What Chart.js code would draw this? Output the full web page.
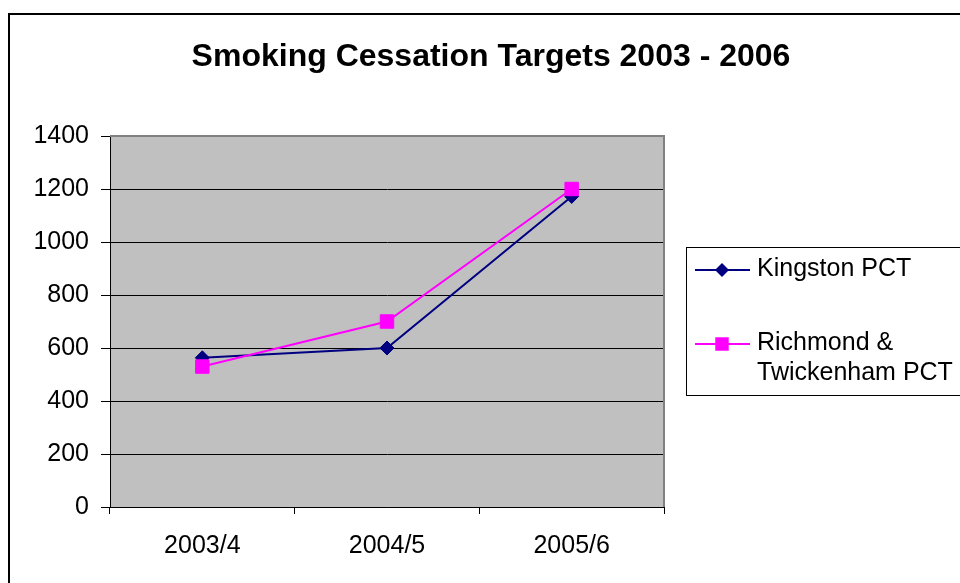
<!DOCTYPE html>
<html><head><meta charset="utf-8">
<script src="https://cdn.jsdelivr.net/npm/chart.js@4"></script>
<style>html,body{margin:0;padding:0;background:#fff;overflow:hidden}canvas{display:block}</style>
</head><body>
<canvas id="c" width="960" height="583"></canvas>
<script>
const categories = ['2003/4', '2004/5', '2005/6'];
const kingston = [563, 600, 1172];
const richmond = [530, 700, 1200];
const seriesLabels = ['Kingston PCT', 'Richmond & Twickenham PCT'];
const chartTitle = 'Smoking Cessation Targets 2003 - 2006';
const yMin = 0, yMax = 1400, yStep = 200;

const FONT = "'Liberation Sans', Arial, Helvetica, sans-serif";

function wrapText(ctx, text, maxW) {
  const words = text.split(' ');
  const lines = [];
  let cur = '';
  for (const w of words) {
    const t = cur ? cur + ' ' + w : w;
    if (ctx.measureText(t).width > maxW && cur) { lines.push(cur); cur = w; }
    else cur = t;
  }
  if (cur) lines.push(cur);
  return lines;
}

const framePlugin = {
  id: 'frame',
  afterLayout(chart) {
    if (chart.titleBlock) { chart.titleBlock.left = 0; chart.titleBlock.right = 982; }
  },
  beforeDraw(chart) {
    const { ctx, chartArea: a } = chart;
    ctx.save();
    ctx.fillStyle = '#ffffff';
    ctx.fillRect(0, 0, chart.width, chart.height);
    ctx.fillStyle = '#C0C0C0';
    ctx.fillRect(a.left, a.top, a.right - a.left, a.bottom - a.top);
    ctx.restore();
  },
  beforeDatasetsDraw(chart) {
    const { ctx, chartArea: a } = chart;
    ctx.save();
    ctx.strokeStyle = '#808080';
    ctx.lineWidth = 2;
    ctx.beginPath();
    ctx.moveTo(a.left, a.top);
    ctx.lineTo(a.right, a.top);
    ctx.lineTo(a.right, a.bottom);
    ctx.stroke();
    ctx.restore();
  },
  afterDraw(chart) {
    const { ctx } = chart;
    ctx.save();
    // outer chart border (extends past the canvas on right/bottom)
    ctx.strokeStyle = '#000';
    ctx.lineWidth = 2;
    ctx.strokeRect(9, 14, 1200, 1200);
    // legend box
    ctx.lineWidth = 1;
    ctx.strokeRect(686.5, 247.5, 400, 148);
    ctx.font = '25px ' + FONT;
    ctx.textBaseline = 'alphabetic';
    const rowLineY = [270, 344];
    const rowBase = [276, 350];
    chart.data.datasets.forEach((ds, i) => {
      const ly = rowLineY[i];
      ctx.strokeStyle = ds.borderColor;
      ctx.lineWidth = 2;
      ctx.beginPath();
      ctx.moveTo(695, ly);
      ctx.lineTo(750, ly);
      ctx.stroke();
      ctx.fillStyle = ds.pointBackgroundColor;
      ctx.beginPath();
      if (ds.pointStyle === 'rect') {
        const s = ds.pointRadius * Math.SQRT1_2;
        ctx.rect(722 - s, ly - s, 2 * s, 2 * s);
      } else {
        const r = ds.pointRadius;
        ctx.moveTo(722, ly - r); ctx.lineTo(722 + r, ly); ctx.lineTo(722, ly + r); ctx.lineTo(722 - r, ly); ctx.closePath();
      }
      ctx.fill();
      ctx.fillStyle = '#000';
      const lines = wrapText(ctx, ds.label, 205);
      lines.forEach((ln, k) => ctx.fillText(ln, 757, rowBase[i] + k * 30));
    });
    ctx.restore();
  }
};

new Chart(document.getElementById('c'), {
  type: 'line',
  data: {
    labels: categories,
    datasets: [
      {
        label: seriesLabels[0], data: kingston,
        borderColor: '#000080', backgroundColor: '#000080',
        pointBackgroundColor: '#000080', pointBorderColor: '#000080',
        pointStyle: 'rectRot', pointRadius: 7, pointBorderWidth: 1,
        borderWidth: 2, tension: 0, order: 1
      },
      {
        label: seriesLabels[1], data: richmond,
        borderColor: '#FF00FF', backgroundColor: '#FF00FF',
        pointBackgroundColor: '#FF00FF', pointBorderColor: '#FF00FF',
        pointStyle: 'rect', pointRadius: 9.5, pointBorderWidth: 1,
        borderWidth: 2, tension: 0, order: 0
      }
    ]
  },
  options: {
    responsive: false,
    animation: false,
    devicePixelRatio: 1,
    layout: { padding: { left: 0, right: 296, top: 0, bottom: 0 } },
    plugins: {
      legend: { display: false },
      tooltip: { enabled: false },
      title: {
        display: true, text: chartTitle, color: '#000',
        font: { family: FONT, size: 32, weight: 'bold', lineHeight: 1.2 },
        padding: { top: 38, bottom: 59.6 }
      }
    },
    scales: {
      x: {
        offset: true,
        afterFit(s) { s.height = 76; },
        grid: { display: true, offset: true, drawOnChartArea: false, drawTicks: true, tickLength: 7, color: '#000', tickColor: '#000' },
        border: { display: true, color: '#000', width: 1 },
        ticks: { color: '#000', padding: 17, font: { family: FONT, size: 25 }, maxRotation: 0 }
      },
      y: {
        min: yMin, max: yMax,
        afterFit(s) { s.width = 110; },
        grid: { color: '#000', lineWidth: 1, tickLength: 9, tickColor: '#000' },
        border: { display: true, color: '#000', width: 1 },
        ticks: { stepSize: yStep, color: '#000', padding: 12, font: { family: FONT, size: 25 },
          callback: (v) => String(v) }
      }
    }
  },
  plugins: [framePlugin]
});
</script>
</body></html>
